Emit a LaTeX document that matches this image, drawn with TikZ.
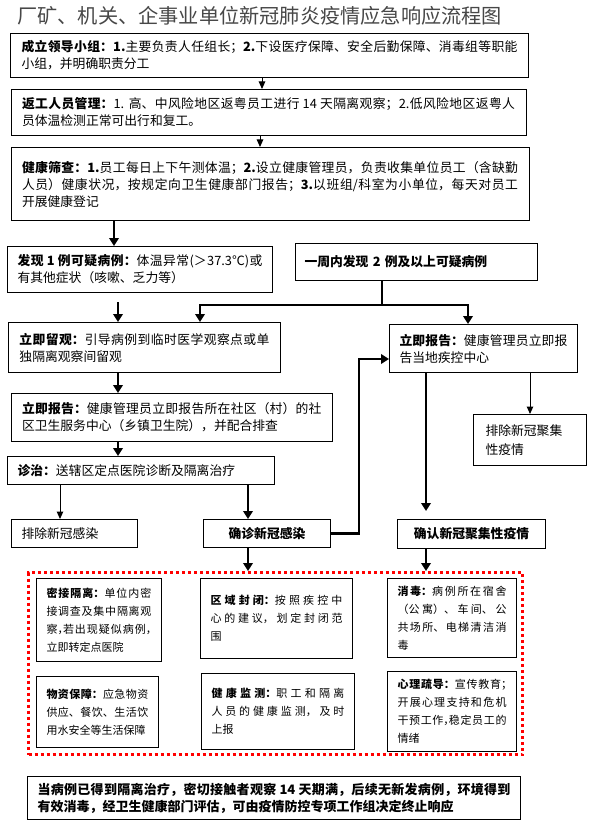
\documentclass[tikz,border=0pt]{standalone}
\usepackage{fontspec}
\setmainfont{Noto Sans CJK SC}
\usetikzlibrary{arrows.meta}
\XeTeXlinebreaklocale "zh"
\XeTeXlinebreakskip=0pt plus 2pt minus 0.3pt
\XeTeXlinebreakpenalty=10000
\tolerance=10000
\hbadness=10000
\hfuzz=5pt
\newcommand\B[1]{{\bfseries #1}}
\newcommand\hc[1]{\makebox[0.5em][l]{#1}}
\tikzset{
  box/.style={draw, line width=1pt, inner xsep=11pt, inner ysep=0pt, anchor=north west, align=justify, font=\fontsize{12.8}{17}\selectfont},
  ibox/.style={box, inner xsep=10pt, font=\fontsize{11}{18}\selectfont},
  cbox/.style={draw, line width=1pt, inner sep=0pt, anchor=north west, align=center, font=\fontsize{12.8}{17}\selectfont\bfseries},
  lbox/.style={draw, line width=1pt, inner xsep=11pt, inner ysep=0pt, anchor=north west, align=left},
  thinarrow/.style={line width=1pt, -{Triangle[width=6.5pt,length=7.5pt]}},
  thickline/.style={line width=2.8pt},
  thickarrow/.style={line width=2.8pt, -{Triangle[width=9.5pt,length=8pt]}},
  reddots/.style={draw=red, line width=3pt, dash pattern=on 3pt off 3pt, inner sep=0pt, anchor=north west}
}
\begin{document}
\begin{tikzpicture}[x=1pt,y=-1pt]
\useasboundingbox (0,0) rectangle (589,826);
\fill[white] (0,0) rectangle (589,826);
% title
\node[anchor=west, inner sep=0pt, text=black!72, font=\fontsize{20.2}{22}\selectfont] (title) at (17,16) {厂矿、机关、企事业单位新冠肺炎疫情应急响应流程图};
% main boxes
\node[box, minimum width=518pt, minimum height=44pt, text width=496pt] (b1) at (10,33) {\B{成立领导小组：1.}主要负责人任组长；\B{2.}下设医疗保障、安全后勤保障、消毒组等职能\linebreak 小组，并明确职责分工};
\node[box, minimum width=515pt, minimum height=46pt, text width=493pt] (b2) at (10.5,89) {\B{返工人员管理：}1. 高、中风险地区返粤员工进行 14 天隔离观察；2.低风险地区返粤人\linebreak 员体温检测正常可出行和复工。};
\node[box, minimum width=518pt, minimum height=73pt, text width=496pt] (b3) at (10.5,147) {\B{健康筛查：1.}员工每日上下午测体温；\B{2.}设立健康管理员，负责收集单位员工（含缺勤\linebreak 人员）健康状况，按规定向卫生健康部门报告；\B{3.}以班组/科室为小单位，每天对员工\linebreak 开展健康登记};
\node[box, inner xsep=10pt, minimum width=265pt, minimum height=46pt, text width=245pt] (b4) at (7,246) {\B{发现 1 例可疑病例：}体温异常(＞37.3℃)或\linebreak 有其他症状（咳嗽、乏力等）};
\node[lbox, inner xsep=9pt, minimum width=242pt, minimum height=37pt, text width=224pt, font=\fontsize{12.8}{17}\selectfont\bfseries] (b5) at (295,243) {一周内发现 2 例及以上可疑病例};
\node[box, minimum width=272pt, minimum height=50pt, text width=250pt] (b6) at (8,322) {\B{立即留观：}引导病例到临时医学观察点或单\linebreak 独隔离观察间留观};
\node[box, inner xsep=10pt, minimum width=188pt, minimum height=48pt, text width=168pt] (b7) at (389,324) {\B{立即报告：}健康管理员立即报\linebreak 告当地疾控中心};
\node[box, minimum width=321.5pt, minimum height=48pt, text width=299.5pt] (b8) at (10.5,393) {\B{立即报告：}健康管理员立即报告所在社区（村）的社\linebreak 区卫生服务中心（乡镇卫生院），并配合排查};
\node[lbox, inner xsep=12pt, minimum width=113pt, minimum height=51pt, text width=89pt, font=\fontsize{12.8}{19}\selectfont] (b13) at (473,414) {排除新冠聚集\\性疫情};
\node[box, inner xsep=10pt, minimum width=267pt, minimum height=28pt, text width=247pt] (b9) at (7,456) {\B{诊治：}送辖区定点医院诊断及隔离治疗};
\node[lbox, inner xsep=10.5pt, minimum width=126.5pt, minimum height=28pt, text width=105.5pt, font=\fontsize{12.8}{17}\selectfont] (b10) at (10.5,519) {排除新冠感染};
\node[cbox, minimum width=127pt, minimum height=28pt] (b11) at (203,519) {确诊新冠感染};
\node[cbox, minimum width=148pt, minimum height=29pt] (b12) at (397,519) {确认新冠聚集性疫情};
% red dotted region
\node[reddots, minimum width=494pt, minimum height=182pt] (red) at (27,571) {};
% inner boxes
\node[ibox, minimum width=125pt, minimum height=83pt, text width=105pt] (ia) at (36,578) {\B{密接隔离：}单位内密\linebreak 接调查及集中隔离观\linebreak 察\hc{，}若出现疑似病例\hc{，}\linebreak 立即转定点医院};
\node[ibox, minimum width=152pt, minimum height=80pt, text width=132pt] (ib) at (200,578) {\B{区域封闭：}按照疾控中\linebreak 心的建议，划定封闭范\linebreak 围};
\node[ibox, minimum width=129pt, minimum height=79pt, text width=109pt] (ic) at (387,578) {\B{消毒：}病例所在宿舍\linebreak （公寓）、车间、公\linebreak 共场所、电梯清洁消\linebreak 毒};
\node[ibox, minimum width=122pt, minimum height=71pt, text width=102pt] (id) at (36,676) {\B{物资保障：}应急物资\linebreak 供应、餐饮、生活饮\linebreak 用水安全等生活保障};
\node[ibox, minimum width=153pt, minimum height=76pt, text width=133pt] (ie) at (201,673) {\B{健康监测：}职工和隔离\linebreak 人员的健康监测，及时\linebreak 上报};
\node[ibox, minimum width=129pt, minimum height=80pt, text width=109pt] (if) at (387,671) {\B{心理疏导：}宣传教育\hc{；}\linebreak 开展心理支持和危机\linebreak 干预工作\hc{，}稳定员工的\linebreak 情绪};
% final box
\node[box, inner xsep=10pt, minimum width=493pt, minimum height=43pt, text width=473pt, font=\fontsize{13}{17}\selectfont\bfseries] (fin) at (27,776) {当病例已得到隔离治疗，密切接触者观察 14 天期满，后续无新发病例，环境得到\linebreak 有效消毒，经卫生健康部门评估，可由疫情防控专项工作组决定终止响应};
% helper coordinates
\coordinate (cA) at (262,0);
\coordinate (cB) at (260,0);
\coordinate (cC) at (114,0);
\coordinate (cD) at (118,0);
\coordinate (g4) at (118,302);
\coordinate (j) at (382,305);
\coordinate (cF) at (200,0);
\coordinate (cG) at (468,0);
\coordinate (cH) at (60,0);
\coordinate (cI) at (248,0);
\coordinate (lp) at (359,359);
\coordinate (cK) at (426,0);
\coordinate (g12) at (426,511);
\coordinate (cL) at (530,0);
% connectors
\draw[thinarrow] (b1.south -| cA) -- (b2.north -| cA);
\draw[thinarrow] (b2.south -| cB) -- (b3.north -| cB);
\draw[thickarrow] (b3.south -| cC) -- (b4.north -| cC);
\draw[thickarrow] (g4) -- (b6.north -| g4);
\draw[thickline] (b5.south -| j) -- (j);
\draw[thickarrow] (j) -| (b6.north -| cF);
\draw[thickarrow] (j) -| (b7.north -| cG);
\draw[thickarrow] (b6.south -| cD) -- (b8.north -| cD);
\draw[thickarrow] (b8.south -| cD) -- (b9.north -| cD);
\draw[thinarrow] (b9.south -| cH) -- (b10.north -| cH);
\draw[thickarrow] (b9.south -| cI) -- (b11.north -| cI);
\draw[thickarrow] (b11.east) -| (lp) -- (b7.west |- lp);
\draw[thickarrow] (b7.south -| g12) -- (g12);
\draw[thinarrow] (b7.south -| cL) -- (b13.north -| cL);
\draw[thickarrow] (b11.south -| cI) -- (red.north -| cI);
\draw[thickarrow] (b12.south -| cK) -- (red.north -| cK);
\end{tikzpicture}
\end{document}
